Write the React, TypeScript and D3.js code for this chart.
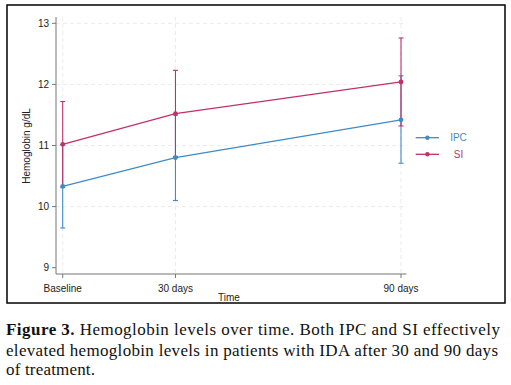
import React from "react";
import * as d3 from "d3";

// days since start, and the labels shown under each tick
const times = [0, 30, 90];
const timeLabels = ["Baseline", "30 days", "90 days"];

// hemoglobin g/dL: mean and error bar ends
const ipcMean = [10.33, 10.8, 11.42];
const ipcLow = [9.65, 10.1, 10.71];
const ipcHigh = [11.01, 11.5, 12.14];
const siMean = [11.02, 11.52, 12.04];
const siLow = [10.32, 10.82, 11.32];
const siHigh = [11.72, 12.23, 12.76];

const yTicks = [9, 10, 11, 12, 13];
const seriesNames = ["IPC", "SI"];

const BLUE = "#3f8bc9";
const RED = "#c2306a";
const SANS = "'Liberation Sans', Arial, sans-serif";
const SERIF = "'Liberation Serif', 'Times New Roman', serif";

const App = () => {
  const x = d3.scaleLinear().domain([0, 90]).range([62.7, 401]);
  const y = d3.scaleLinear().domain([9, 13]).range([267.7, 23.3]);
  const axisY = 274, axisX = 56;
  const plotTop = 17, plotRight = 406.5;

  const line = d3.line<number>()
    .x((_, i) => x(times[i]))
    .y(d => y(d));

  const series = [
    { name: seriesNames[0], color: BLUE, mean: ipcMean, low: ipcLow, high: ipcHigh },
    { name: seriesNames[1], color: RED, mean: siMean, low: siLow, high: siHigh },
  ];

  return (
    <svg width={511} height={385} style={{ position: "absolute", left: 0, top: 0 }}>
      <rect x={0} y={0} width={511} height={385} fill="#fff" />
      <rect x={7} y={5} width={498} height={298} fill="#fff" stroke="#111" strokeWidth={1.6} />

      {/* grid */}
      <g stroke="#e6e6e6" strokeWidth={0.8} strokeDasharray="4,3">
        {yTicks.filter(t => t > 9).map(t => (
          <line key={"gy" + t} x1={axisX} x2={plotRight} y1={y(t)} y2={y(t)} />
        ))}
        {times.map(t => (
          <line key={"gx" + t} x1={x(t)} x2={x(t)} y1={plotTop} y2={axisY} />
        ))}
      </g>

      {/* axes */}
      <g stroke="#777" strokeWidth={1}>
        <line x1={axisX} x2={axisX} y1={plotTop} y2={axisY} />
        <line x1={axisX} x2={plotRight} y1={axisY} y2={axisY} />
        {yTicks.map(t => (
          <line key={"ty" + t} x1={axisX - 4} x2={axisX} y1={y(t)} y2={y(t)} />
        ))}
        {times.map(t => (
          <line key={"tx" + t} x1={x(t)} x2={x(t)} y1={axisY} y2={axisY + 4} />
        ))}
      </g>
      <g fontFamily={SANS} fontSize={10} fill="#222">
        {yTicks.map(t => (
          <text key={"ly" + t} x={axisX - 7} y={y(t) + 3.5} textAnchor="end">{t}</text>
        ))}
        {times.map((t, i) => (
          <text key={"lx" + t} x={x(t)} y={292} textAnchor="middle">{timeLabels[i]}</text>
        ))}
        <text x={229} y={300.5} textAnchor="middle">Time</text>
        <text transform={`translate(30,146) rotate(-90)`} textAnchor="middle">Hemoglobin g/dL</text>
      </g>

      {/* error bars */}
      {series.map(s => (
        <g key={"eb" + s.name} stroke={s.color} strokeWidth={1.1}>
          {times.map((t, i) => (
            <g key={i}>
              <line x1={x(t)} x2={x(t)} y1={y(s.low[i])} y2={y(s.high[i])} />
              <line x1={x(t) - 2.5} x2={x(t) + 2.5} y1={y(s.low[i])} y2={y(s.low[i])} />
              <line x1={x(t) - 2.5} x2={x(t) + 2.5} y1={y(s.high[i])} y2={y(s.high[i])} />
            </g>
          ))}
        </g>
      ))}

      {/* lines and markers */}
      {series.map(s => (
        <g key={"ln" + s.name}>
          <path d={line(s.mean) ?? ""} fill="none" stroke={s.color} strokeWidth={1.3} />
          {times.map((t, i) => (
            <circle key={i} cx={x(t)} cy={y(s.mean[i])} r={2.4} fill={s.color} />
          ))}
        </g>
      ))}

      {/* legend */}
      {series.map((s, i) => {
        const ly = 137.7 + i * 16.6;
        return (
          <g key={"lg" + s.name}>
            <line x1={415.7} x2={439} y1={ly} y2={ly} stroke={s.color} strokeWidth={1.3} />
            <circle cx={427.4} cy={ly} r={2.2} fill={s.color} />
            <text x={458.5} y={ly + 3.5} textAnchor="middle" fontFamily={SANS} fontSize={10} fill={s.color}>{s.name}</text>
          </g>
        );
      })}

      {/* caption */}
      <g fontFamily={SERIF} fontSize={17} fill="#111">
        <text x={6} y={335} textLength={494} lengthAdjust="spacing">
          <tspan fontWeight="bold">Figure 3.</tspan> Hemoglobin levels over time. Both IPC and SI effectively
        </text>
        <text x={6} y={355.5} textLength={492} lengthAdjust="spacing">elevated hemoglobin levels in patients with IDA after 30 and 90 days</text>
        <text x={6} y={375} textLength={89} lengthAdjust="spacing">of treatment.</text>
      </g>
    </svg>
  );
};

export default App;
